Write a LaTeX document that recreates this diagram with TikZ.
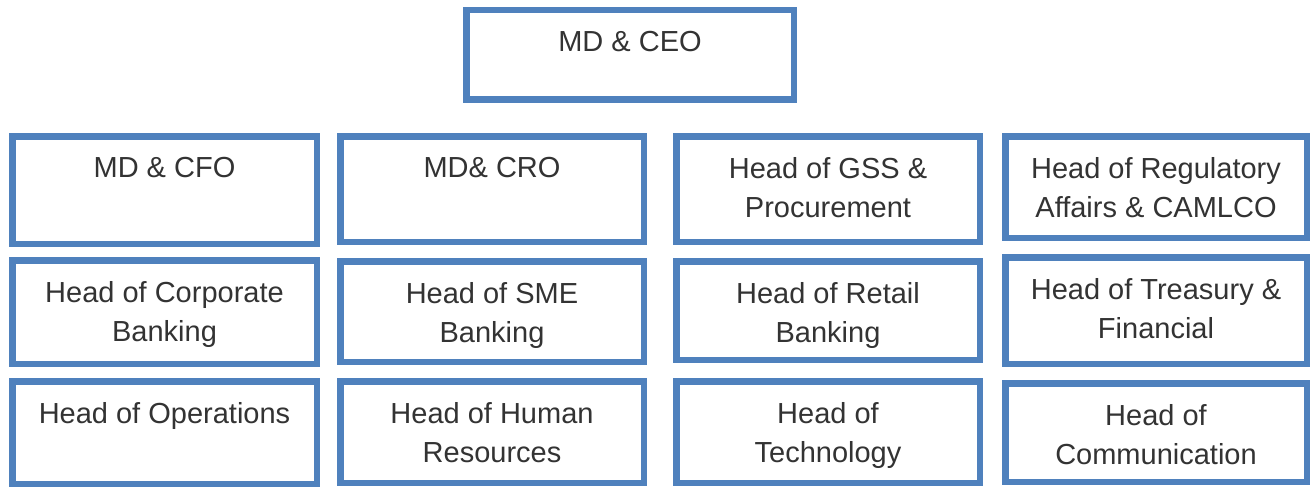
\documentclass[tikz,border=0pt]{standalone}
\usepackage{fontspec}
\setmainfont{Liberation Sans}
\definecolor{boxblue}{HTML}{4F81BD}
\definecolor{txtgray}{HTML}{333333}
\tikzset{
  orgbox/.style={draw=boxblue, line width=6.5pt, fill=white, inner sep=0pt},
  orglbl/.style={align=center, inner sep=0pt, text=txtgray, font=\fontsize{29}{39}\selectfont, anchor=north}
}
\newcommand\obox[6]{%
  \node[orgbox, minimum width={#4-#2-6.5}, minimum height={#5-#3-6.5}] (#1) at ({(#2+#4)/2},{(#3+#5)/2}) {};
  \node[orglbl] (#1-t) at ([yshift=-24pt]#1.north) {#6};
}
\begin{document}
\begin{tikzpicture}[x=1pt,y=-1pt]
\useasboundingbox (0,0) rectangle (1310,487);
\obox{ceo}{463}{7}{797}{103}{MD \& CEO}
\obox{cfo}{9}{133}{320}{247}{MD \& CFO}
\obox{cro}{337}{133}{647}{245}{MD\& CRO}
\obox{gss}{673}{133}{983}{245}{Head of GSS \&\\Procurement}
\obox{reg}{1002}{133}{1310}{241}{Head of Regulatory\\Affairs \& CAMLCO}
\obox{corp}{9}{257}{320}{367}{Head of Corporate\\Banking}
\obox{sme}{337}{258}{647}{365}{Head of SME\\Banking}
\obox{retail}{673}{258}{983}{363}{Head of Retail\\Banking}
\obox{treas}{1002}{254}{1310}{367}{Head of Treasury \&\\Financial}
\obox{ops}{9}{378}{320}{487}{Head of Operations}
\obox{hr}{337}{378}{647}{486}{Head of Human\\Resources}
\obox{tech}{673}{378}{983}{486}{Head of\\Technology}
\obox{comm}{1002}{380}{1310}{485}{Head of\\Communication}
\end{tikzpicture}
\end{document}
